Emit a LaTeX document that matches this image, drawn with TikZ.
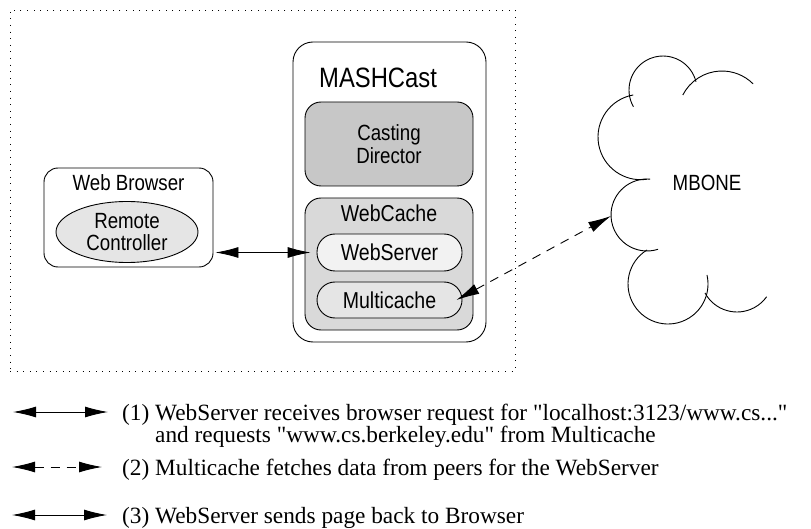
\documentclass[tikz,border=0pt]{standalone}
\usepackage{fontspec}
\setmainfont{Liberation Serif}
% legend face without the TeX ligature mapping, so that " stays straight
\newfontfamily\lgd{Liberation Serif}
\newfontfamily\hv[FakeStretch=0.85]{Liberation Sans}
\usetikzlibrary{arrows.meta,shapes.geometric}

\tikzset{
  line/.style={line width=0.9pt},
  rbox/.style={line, draw, rounded corners=#1, inner sep=0pt},
  rbox/.default=14pt,
  pill/.style={line, draw, rounded corners=18pt, inner sep=0pt,
    minimum width=145pt, minimum height=37pt, font=\hv\fontsize{23}{24}\selectfont},
  lbl/.style={inner sep=0pt, font=\hv\fontsize{23}{24}\selectfont},
  legend/.style={inner sep=0pt, anchor=base west, font=\lgd\fontsize{23.3}{24}\selectfont},
  tip/.style={line width=0.9pt, {Latex[length=23pt,width=11pt]}-{Latex[length=23pt,width=11pt]}},
  dashtip/.style={tip, dash pattern=on 9pt off 7pt},
}

\begin{document}
\begin{tikzpicture}[x=1pt, y=1pt, yscale=-1]
\useasboundingbox (0,0) rectangle (811,529);

% dotted host frame
\node[draw, line width=0.9pt, dash pattern=on 1pt off 5.6pt, minimum width=505pt,
      minimum height=361pt, inner sep=0pt] (frame) at (262.5,190.5) {};

% web browser with its remote controller
\node[rbox=14pt, minimum width=169pt, minimum height=99pt] (browser) at (128.5,217.5) {};
\node[lbl, anchor=base, font=\hv\fontsize{22}{23}\selectfont] (browserlbl) at (128.5,191) {Web Browser};
\node[line, draw, ellipse, fill=black!10, minimum width=142pt, minimum height=61pt,
      inner sep=0pt, align=center, font=\hv\fontsize{22}{22}\selectfont] (remote) at (127,232)
      {Remote\\Controller};

% MASHCast process
\node[rbox=20pt, minimum width=193pt, minimum height=300pt] (mash) at (389.5,192) {};
\node[lbl, anchor=base west, font=\hv\fontsize{28}{30}\selectfont] (mashlbl) at (319,88) {MASHCast};
\node[rbox=16pt, fill=black!22, minimum width=168pt, minimum height=84pt, align=center,
      font=\hv\fontsize{22}{23}\selectfont] (casting) at (389,144) {Casting\\Director};
\node[rbox=16pt, fill=black!15, minimum width=168pt, minimum height=132pt] (webcache) at (389,264) {};
\node[lbl, anchor=base] (webcachelbl) at (389,222) {WebCache};
\node[pill, fill=black!5] (webserver) at (389.5,252.5) {WebServer};
\node[pill, fill=black!10, minimum height=36pt] (multicache) at (389.5,300) {Multicache};

% MBONE cloud
\draw[line] (663,90) ++(-209.5:34) arc[start angle=-209.5, end angle=-14, radius=34];
\draw[line] (722,115) ++(-153:44) arc[start angle=-153, end angle=-45, radius=44];
\draw[line] (640.7,137) ++(-100:42.7) arc[start angle=-100, end angle=-278.5, radius=42.7];
\draw[line] (647,215) ++(-85:36) arc[start angle=-85, end angle=-288, radius=36];
\draw[line] (668,284) ++(-121.7:40) arc[start angle=-121.7, end angle=-373, radius=40];
\draw[line] (737,275.6) ++(-208.5:36.4) arc[start angle=-208.5, end angle=-324.5, radius=36.4];
\node[lbl, anchor=base, font=\hv\fontsize{22}{23}\selectfont] (mbone) at (707,191) {MBONE};
\coordinate (cloudin) at (611,216);

% connectors
\draw[tip, shorten <=2pt, shorten >=6pt] (browser.east |- webserver.west) -- (webserver.west);
\draw[dashtip] ([xshift=-6pt]multicache.east) -- (cloudin);

% legend
\coordinate (l1a) at (13,412);  \coordinate (l1b) at (108,412);
\coordinate (l2a) at (12,467);  \coordinate (l2b) at (102,467);
\coordinate (l3a) at (12,515);  \coordinate (l3b) at (107,515);
\draw[tip] (l1a) -- (l1b);
\draw[dashtip] (l2a) -- (l2b);
\draw[tip] (l3a) -- (l3b);
\node[legend] (t1) at (122,420) {(1) WebServer receives browser request for "localhost:3123/www.cs..."};
\node[legend] (t1b) at (155,442) {and requests "www.cs.berkeley.edu" from Multicache};
\node[legend] (t2) at (122,475) {(2) Multicache fetches data from peers for the WebServer};
\node[legend] (t3) at (122,523) {(3) WebServer sends page back to Browser};
\end{tikzpicture}
\end{document}
